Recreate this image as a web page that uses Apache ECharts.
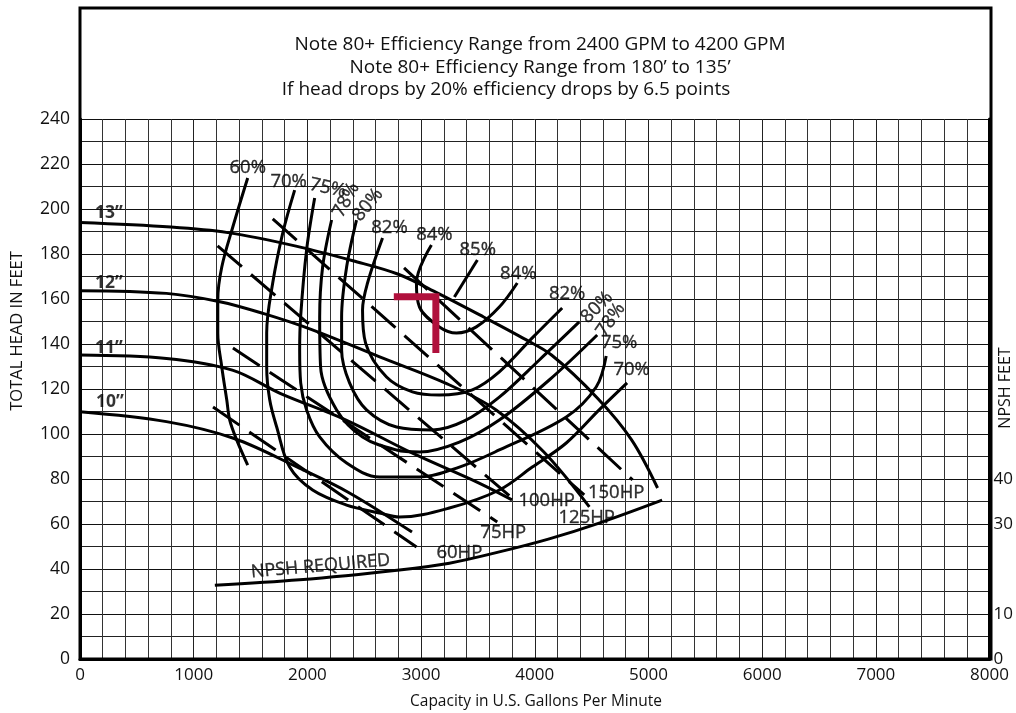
<!DOCTYPE html>
<html><head><meta charset="utf-8">
<script src="https://cdn.jsdelivr.net/npm/echarts@6.0.0/dist/echarts.min.js"></script>
<style>html,body{margin:0;padding:0;background:#fff}#c{width:1016px;height:713px}</style>
</head><body><div id="c"></div>
<script>
// ---------- data (flow in GPM, head in feet) ----------
const xTicks = [0, 8000, 1000];           // min, max, interval (GPM)
const yTicks = [0, 240, 20];              // total head (ft)
const npshTicks = [0, 10, 30, 40];        // labelled NPSH values (ft)
const notes = [
  'Note 80+ Efficiency Range from 2400 GPM to 4200 GPM',
  'Note 80+ Efficiency Range from 180\u2019 to 135\u2019',
  'If head drops by 20% efficiency drops by 6.5 points'
];

const head13 = [[0,194],[800,192],[1300,189.5],[1900,183.5],[2400,177],[2800,171],[3150,162.5],[3550,152],[3900,142.5],[4150,135],[4550,116],[4850,97.5],[5080,76]];
const head12 = [[0,163.7],[760,162.5],[1230,158.8],[1610,153.6],[2050,146.2],[2630,134.4],[3220,122.5],[3660,110.7],[4080,92],[4480,67.6]];
const head11 = [[0,135.1],[760,133.6],[1340,128.4],[1760,118.1],[2340,106.2],[2920,91.6],[3510,78.2],[3800,70.7]];
const head10 = [[0,109.9],[760,105.5],[1350,98.1],[1930,84.8],[2370,73.8],[2920,56.4]];

const eff60 = [[1475,213.8],[1344,192],[1247,174.2],[1212,159.6],[1212,144.9],[1247,129.8],[1291,115.1],[1317,106.2],[1379,97.3],[1475,86.2]];
const eff70 = [[1888,208.4],[1783,189.3],[1695,167.1],[1642,144.9],[1642,129.8],[1669,115.1],[1730,103.1],[1844,85.3],[2046,75.1],[2345,68.4],[2634,64.9],[2810,63.1],[3249,67.1],[3688,75.1],[3978,85.3],[4277,96],[4566,110.7],[4812,122.7]];
const eff75 = [[2064,204.9],[1993,181.8],[1941,152.4],[1932,137.3],[1941,122.7],[1993,110.7],[2108,98.7],[2345,87.1],[2634,80.9],[2986,80.9],[3337,85.3],[3688,92.9],[4277,107.6],[4540,120.9],[4628,134.7]];
const eff78 = [[2213,195.1],[2134,174.2],[2108,152],[2116,129.8],[2257,110.7],[2485,98.7],[2784,92.9],[2986,92],[3337,96.4],[3688,106.2],[4127,124],[4549,144]];
const eff80 = [[2432,195.1],[2345,174.2],[2301,152],[2301,137.3],[2371,122.7],[2520,110.7],[2784,103.1],[3100,101.8],[3381,105.8],[3688,116.4],[4040,132.9],[4391,149.8]];
const eff82 = [[2661,187.1],[2529,167.1],[2485,155.1],[2512,140.4],[2696,125.3],[2924,118.7],[3161,117.3],[3451,119.6],[3688,127.6],[3978,142.7],[4241,156]];
const eff84 = [[3091,184],[2959,167.1],[2986,156.4],[3161,147.6],[3311,144.9],[3486,147.6],[3688,156.4],[3846,167.1]];
const eff85 = [[3495,177.3],[3293,160.9]];

const hp150 = [[2850,173.8],[4860,79.6]];
const hp125 = [[1695,195.6],[4435,72.9]];
const hp100 = [[1210,183.6],[3820,70.7]];
const hp75  = [[1345,138.2],[3670,60.9]];
const hp60  = [[1170,112],[2960,49.8]];

// NPSH required (right axis, ft)
const npshReq = [[1186,16.4],[1932,17.6],[2810,19.8],[3249,21.3],[3688,23.8],[4127,26.7],[4566,30.2],[5120,35.3]];

// duty point marker
const dutyMark = [[2760,161],[3130,161],[3130,136]];

// curve labels: [flow, head, text, angle]
const effLabels = [
  [1475,218.2,'60%',0],[1835,212,'70%',0],[2178,209.3,'75%',-12],[2342,204,'78%',62],[2532,201.8,'80%',50],
  [2722,191.7,'82%',0],[3117,188.4,'84%',0],[3498,181.8,'85%',0],[3855,171.4,'84%',0],
  [4285,162.2,'82%',0],[4546,156.3,'80%',45],[4669,150.7,'78%',55],[4742,140.7,'75%',0],[4852,128.4,'70%',0]
];
const hpLabels = [[4716,73.8,'150HP'],[4457,62.9,'125HP'],[4105,70.4,'100HP'],[3723,56.2,'75HP'],[3337,47.3,'60HP']];
const diaLabels = [[255,198,'13\u201D'],[255,167,'12\u201D'],[255,138.2,'11\u201D'],[263,114,'10\u201D']];
const npshLabel = [[2116,20.6,'NPSH REQUIRED',5]];

// ---------- chart ----------
const FONT = '"Open Sans", "Noto Sans", sans-serif';
const chart = echarts.init(document.getElementById('c'), null, {renderer: 'canvas'});

function curve(name, data, smooth) {
  return {name, type: 'line', data, smooth: smooth === undefined ? 0.35 : smooth, symbol: 'none',
    lineStyle: {color: '#000', width: 3}, z: 5, silent: true, animation: false};
}
function hpLine(name, data) {
  return {name, type: 'line', data, symbol: 'none', smooth: false,
    lineStyle: {color: '#000', width: 3, type: [32, 12]}, z: 5, silent: true, animation: false};
}
function labelSeries(name, items, fontSize, bold, yIdx) {
  return {name, type: 'scatter', yAxisIndex: yIdx || 0, symbolSize: 0, z: 8, silent: true, animation: false,
    data: items.map(d => ({value: [d[0], d[1]], name: d[2],
      label: {rotate: d[3] || 0}})),
    label: {show: true, position: 'inside', formatter: p => p.name, color: '#000',
      textBorderColor: '#000', textBorderWidth: bold ? 0 : 0.35,
      fontFamily: FONT, fontSize, fontWeight: bold ? 'bold' : 'normal'}};
}
const txt = (s, size) => ({text: s, font: size + 'px ' + FONT, fill: '#111', textAlign: 'center', textVerticalAlign: 'middle'});

const option = {
  animation: false,
  backgroundColor: '#fff',
  grid: {left: 80, right: 25, top: 119, bottom: 54, containLabel: false},
  xAxis: {
    type: 'value', min: xTicks[0], max: xTicks[1], interval: xTicks[2],
    axisLine: {show: true, lineStyle: {color: '#000', width: 3}},
    axisTick: {show: false},
    axisLabel: {color: '#111', fontFamily: FONT, fontSize: 17, margin: 8, formatter: v => String(v)},
    splitLine: {show: true, lineStyle: {color: '#222', width: 1}},
    minorTick: {show: false, splitNumber: 5},
    minorSplitLine: {show: true, lineStyle: {color: '#333', width: 1}}
  },
  yAxis: [{
    type: 'value', min: yTicks[0], max: yTicks[1], interval: yTicks[2],
    axisLine: {show: true, lineStyle: {color: '#000', width: 3}},
    axisTick: {show: false},
    axisLabel: {color: '#111', fontFamily: FONT, fontSize: 17.5, margin: 10},
    splitLine: {show: true, lineStyle: {color: '#111', width: 1}},
    minorTick: {show: false, splitNumber: 2},
    minorSplitLine: {show: true, lineStyle: {color: '#222', width: 1}}
  }, {
    type: 'value', position: 'right', min: 0, max: 120, interval: 10,
    axisLine: {show: true, lineStyle: {color: '#000', width: 3}},
    axisTick: {show: false},
    splitLine: {show: false},
    axisLabel: {color: '#111', fontFamily: FONT, fontSize: 17, margin: 4,
      formatter: v => npshTicks.indexOf(v) >= 0 ? String(v) : ''}
  }],
  series: [
    curve('13"', head13), curve('12"', head12), curve('11"', head11), curve('10"', head10),
    curve('60%', eff60), curve('70%', eff70), curve('75%', eff75), curve('78%', eff78),
    curve('80%', eff80), curve('82%', eff82), curve('84%', eff84), curve('85%', eff85, false),
    hpLine('150HP', hp150), hpLine('125HP', hp125), hpLine('100HP', hp100), hpLine('75HP', hp75), hpLine('60HP', hp60),
    Object.assign(curve('NPSH REQUIRED', npshReq), {yAxisIndex: 1}),
    {name: 'duty', type: 'line', data: dutyMark, symbol: 'none', z: 9, silent: true,
      lineStyle: {color: '#b0103c', width: 7, cap: 'butt', join: 'miter'}},
    labelSeries('effLabels', effLabels, 18.5, false),
    labelSeries('hpLabels', hpLabels, 18.5, false),
    labelSeries('diaLabels', diaLabels, 17.5, true),
    labelSeries('npshLabel', npshLabel, 18, false, 1)
  ],
  graphic: [
    {type: 'rect', shape: {x: 80, y: 8, width: 911, height: 651}, style: {fill: 'none', stroke: '#000', lineWidth: 3}, z: 100, silent: true},
    {type: 'text', x: 540, y: 45, style: txt(notes[0], 19)},
    {type: 'text', x: 540, y: 68, style: txt(notes[1], 19)},
    {type: 'text', x: 506, y: 90, style: txt(notes[2], 19)},
    {type: 'text', x: 536, y: 702, style: txt('Capacity in U.S. Gallons Per Minute', 15.5)},
    {type: 'text', x: 17, y: 331, rotation: Math.PI / 2, style: txt('TOTAL HEAD IN FEET', 16.5)},
    {type: 'text', x: 1005, y: 388, rotation: Math.PI / 2, style: txt('NPSH FEET', 16)}
  ]
};
chart.setOption(option);
</script></body></html>
